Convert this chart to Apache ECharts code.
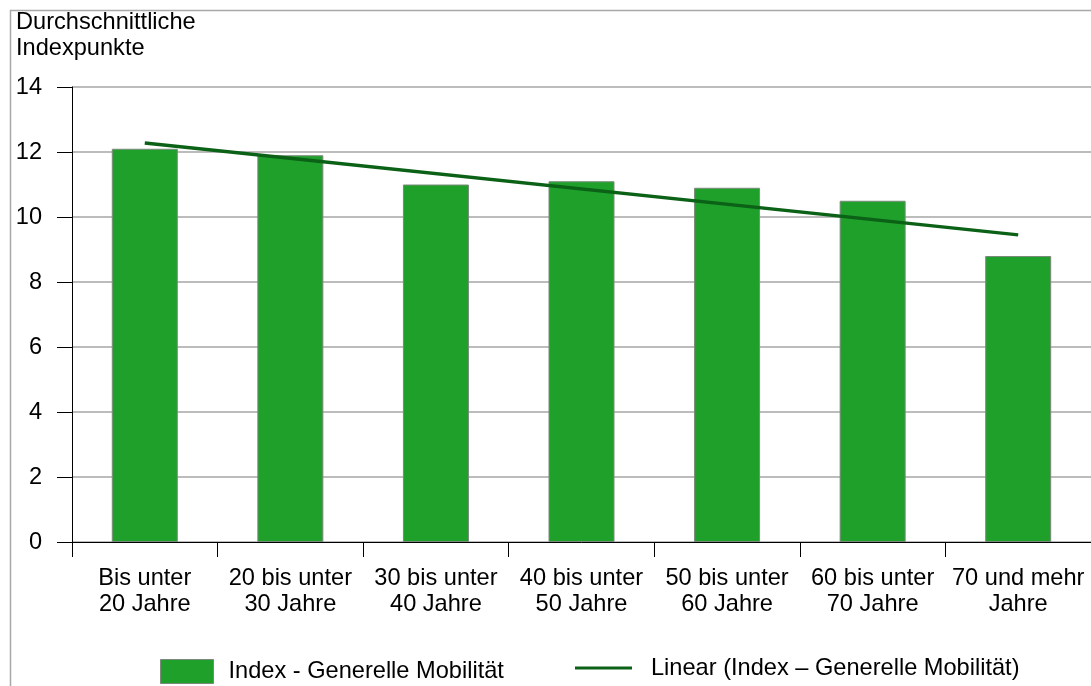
<!DOCTYPE html>
<html><head><meta charset="utf-8">
<script src="https://cdn.jsdelivr.net/npm/echarts@6/dist/echarts.min.js"></script>
<style>html,body{margin:0;padding:0;background:#fff}#c{width:1091px;height:686px}</style>
</head><body><div id="c"></div>
<script>
const categories = ["Bis unter\n20 Jahre","20 bis unter\n30 Jahre","30 bis unter\n40 Jahre","40 bis unter\n50 Jahre","50 bis unter\n60 Jahre","60 bis unter\n70 Jahre","70 und mehr\nJahre"];
const barValues = [12.1, 11.9, 11.0, 11.1, 10.9, 10.5, 8.8];
const trendValues = [12.28, null, null, null, null, null, 9.45];
const yTicks = [0, 2, 4, 6, 8, 10, 12, 14];
const barName = "Index - Generelle Mobilität";
const lineName = "Linear (Index – Generelle Mobilität)";
const titleText = "Durchschnittliche\nIndexpunkte";

const FONT = "Liberation Sans";
const FS = 23.6;
const chart = echarts.init(document.getElementById('c'));
chart.setOption({
  animation: false,
  backgroundColor: '#fff',
  textStyle: {fontFamily: FONT, color: '#000'},
  title: {text: titleText, left: 16, top: 9, padding: 0,
    textStyle: {fontFamily: FONT, fontSize: FS, fontWeight: 'normal', color: '#000', lineHeight: 26}},
  graphic: [{type: 'rect', left: 8, top: 8, shape: {width: 1200, height: 800},
    style: {fill: 'none', stroke: '#a8a8a8', lineWidth: 1.5}, z: -1, silent: true}],
  legend: [
    {data: [{name: barName, icon: 'rect'}], left: 160, top: 659, padding: 0, itemWidth: 53, itemHeight: 24,
     itemStyle: {borderColor: '#7a8a7a', borderWidth: 1},
     textStyle: {fontFamily: FONT, fontSize: FS, color: '#000', padding: [0,0,0,10]}},
    {data: [{name: lineName, icon: 'rect', itemStyle: {color: '#0b6116'}}], left: 575, top: 656, padding: 0, itemWidth: 57, itemHeight: 3,
     textStyle: {fontFamily: FONT, fontSize: FS, color: '#000', padding: [0,0,0,14]}}
  ],
  grid: {left: 72, right: -3, top: 87, bottom: 144, containLabel: false},
  xAxis: {type: 'category', data: categories, boundaryGap: true,
    axisLine: {lineStyle: {color: '#000', width: 1}},
    axisTick: {show: true, length: 15, interval: 0, lineStyle: {color: '#000', width: 1}},
    axisLabel: {interval: 0, margin: 23, fontFamily: FONT, fontSize: FS, color: '#000', lineHeight: 26}},
  yAxis: {type: 'value', min: yTicks[0], max: yTicks[yTicks.length-1], interval: 2,
    axisLine: {show: true, lineStyle: {color: '#000', width: 1}},
    axisTick: {show: true, length: 15, lineStyle: {color: '#000', width: 1}},
    axisLabel: {margin: 30, fontFamily: FONT, fontSize: FS, color: '#000'},
    splitLine: {show: true, lineStyle: {color: '#a6a6a6', width: 1.5}}},
  series: [
    {name: barName, type: 'bar', data: barValues, barWidth: 66,
     itemStyle: {color: '#1ea02b', borderColor: '#7a8a7a', borderWidth: 1}},
    {name: lineName, type: 'line', data: trendValues, connectNulls: true,
     symbol: 'none', showSymbol: false,
     lineStyle: {color: '#0b6116', width: 3.5}, itemStyle: {color: '#0b6116'}, z: 5}
  ]
});
</script></body></html>
